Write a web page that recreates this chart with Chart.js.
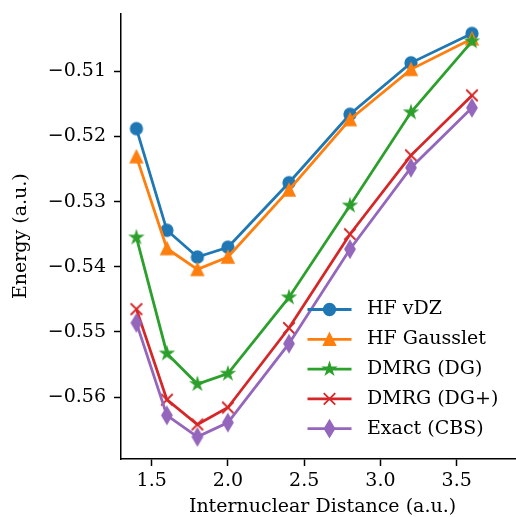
<!DOCTYPE html>
<html>
<head>
<meta charset="utf-8">
<script src="https://cdn.jsdelivr.net/npm/chart.js@4.4.1/dist/chart.umd.min.js"></script>
<style>
  html, body { margin: 0; padding: 0; background: #fff; }
  #wrap { width: 516px; height: 517px; }
</style>
</head>
<body>
<div id="wrap"><canvas id="c" width="516" height="517"></canvas></div>
<script>
// ---------------- data ----------------
const X_VALUES = [1.4, 1.6, 1.8, 2.0, 2.4, 2.8, 3.2, 3.6];
const SERIES_NAMES = ['HF vDZ', 'HF Gausslet', 'DMRG (DG)', 'DMRG (DG+)', 'Exact (CBS)'];
const HF_VDZ      = [-0.5188, -0.5344, -0.5385, -0.5370, -0.5271, -0.5166, -0.5087, -0.5042];
const HF_GAUSSLET = [-0.5231, -0.5372, -0.5404, -0.5385, -0.5282, -0.5174, -0.5097, -0.5050];
const DMRG_DG     = [-0.5355, -0.5533, -0.5580, -0.5564, -0.5447, -0.5306, -0.5163, -0.5054];
const DMRG_DGP    = [-0.5465, -0.5604, -0.5642, -0.5616, -0.5494, -0.5350, -0.5229, -0.5137];
const EXACT_CBS   = [-0.5486, -0.5628, -0.5661, -0.5639, -0.5518, -0.5373, -0.5248, -0.5156];
const X_TICKS = [1.5, 2.0, 2.5, 3.0, 3.5];
const X_TICK_LABELS = ['1.5', '2.0', '2.5', '3.0', '3.5'];
const Y_TICKS = [-0.56, -0.55, -0.54, -0.53, -0.52, -0.51];
const Y_TICK_LABELS = ['\u22120.56', '\u22120.55', '\u22120.54', '\u22120.53', '\u22120.52', '\u22120.51'];
const X_TITLE = 'Internuclear Distance (a.u.)';
const Y_TITLE = 'Energy (a.u.)';
const X_LIMITS = [1.299, 3.941];
const Y_LIMITS = [-0.5695, -0.5011];

// ---------------- styling ----------------
const COLORS = ['#1f77b4', '#ff7f0e', '#2ca02c', '#d62728', '#9467bd'];
const MARKERS = ['circle', 'triangle', 'star', 'x', 'thin_diamond'];
const SERIES = [HF_VDZ, HF_GAUSSLET, DMRG_DG, DMRG_DGP, EXACT_CBS];
const MS = 11.5;    // marker size px
const EW = 1.8;     // marker edge width px
const LW = 2.8;     // line width px
const FONT = "'DejaVu Serif', serif";
const AXES_RIGHT_EDGE = 524; // the x axis runs past the right edge of the canvas

function drawMarkerPath(g, kind, color) {
  const h = MS / 2;
  g.fillStyle = color; g.strokeStyle = color; g.lineWidth = EW;
  g.lineJoin = 'miter'; g.lineCap = 'butt';
  g.beginPath();
  if (kind === 'circle') {
    g.arc(0, 0, h, 0, Math.PI * 2);
    g.fill(); g.stroke();
  } else if (kind === 'triangle') {
    g.moveTo(0, -h); g.lineTo(h, h); g.lineTo(-h, h); g.closePath();
    g.fill(); g.stroke();
  } else if (kind === 'star') {
    const inner = h * 0.381966;
    for (let i = 0; i < 10; i++) {
      const r = i % 2 === 0 ? h : inner;
      const a = -Math.PI / 2 + i * Math.PI / 5;
      const px = r * Math.cos(a), py = r * Math.sin(a);
      if (i === 0) g.moveTo(px, py); else g.lineTo(px, py);
    }
    g.closePath(); g.fill(); g.stroke();
  } else if (kind === 'x') {
    g.moveTo(-h, -h); g.lineTo(h, h); g.moveTo(h, -h); g.lineTo(-h, h);
    g.stroke();
  } else if (kind === 'thin_diamond') {
    const hh = h * Math.SQRT2, hw = 0.6 * h * Math.SQRT2;
    g.moveTo(0, -hh); g.lineTo(hw, 0); g.lineTo(0, hh); g.lineTo(-hw, 0); g.closePath();
    g.fill(); g.stroke();
  }
}

function makeMarker(kind, color) {
  const c = document.createElement('canvas');
  c.width = 30; c.height = 30;
  const g = c.getContext('2d');
  g.translate(15, 15);
  drawMarkerPath(g, kind, color);
  return c;
}

const datasets = SERIES.map((vals, i) => ({
  label: SERIES_NAMES[i],
  data: X_VALUES.map((x, j) => ({ x: x, y: vals[j] })),
  borderColor: COLORS[i],
  backgroundColor: COLORS[i],
  borderWidth: LW,
  pointStyle: makeMarker(MARKERS[i], COLORS[i]),
  pointRadius: 6,
  pointHoverRadius: 6,
  tension: 0,
  fill: false,
  clip: false,
  order: SERIES.length - 1 - i
}));

// extend the x axis beyond the canvas edge, as in the reference figure
const extendPlugin = {
  id: 'extendX',
  afterLayout(chart) {
    const x = chart.scales.x;
    x.right = AXES_RIGHT_EDGE; x.width = x.right - x.left; x.configure();
    chart.chartArea.right = AXES_RIGHT_EDGE;
    chart.chartArea.width = AXES_RIGHT_EDGE - chart.chartArea.left;
  }
};

const legendPlugin = {
  id: 'mplLegend',
  afterDraw(chart) {
    const ctx = chart.ctx;
    const x0 = 307.5, x1 = 351.5, tx = 367, y0 = 309.5, dy = 29.8;
    ctx.save();
    SERIES_NAMES.forEach((name, i) => {
      const y = y0 + i * dy;
      ctx.strokeStyle = COLORS[i];
      ctx.lineWidth = LW;
      ctx.lineCap = 'butt';
      ctx.beginPath(); ctx.moveTo(x0, y); ctx.lineTo(x1, y); ctx.stroke();
      ctx.save();
      ctx.translate((x0 + x1) / 2, y);
      drawMarkerPath(ctx, MARKERS[i], COLORS[i]);
      ctx.restore();
      ctx.fillStyle = '#000';
      ctx.font = "19px " + FONT;
      ctx.textAlign = 'left';
      ctx.textBaseline = 'middle';
      ctx.fillText(name, tx, y);
    });
    ctx.restore();
  }
};

Chart.defaults.font.family = FONT;
Chart.defaults.font.size = 19;
Chart.defaults.color = '#000';

new Chart(document.getElementById('c'), {
  type: 'line',
  data: { datasets: datasets },
  options: {
    responsive: false,
    animation: false,
    devicePixelRatio: 1,
    layout: { padding: { left: 0, top: 13.3, right: 0, bottom: 0 } },
    plugins: { legend: { display: false }, tooltip: { enabled: false } },
    scales: {
      x: {
        type: 'linear',
        min: X_LIMITS[0], max: X_LIMITS[1],
        afterBuildTicks: (s) => { s.ticks = X_TICKS.map(v => ({ value: v })); },
        afterFit: (s) => { s.height = 58; s.paddingLeft = 0; s.paddingRight = 0; s.paddingTop = 0; s.paddingBottom = 0; },
        ticks: {
          padding: 4,
          maxRotation: 0,
          autoSkip: false,
          callback: (v) => { const k = X_TICKS.findIndex(t => Math.abs(t - v) < 1e-9); return k >= 0 ? X_TICK_LABELS[k] : ''; },
          font: { size: 19 }
        },
        grid: { drawOnChartArea: false, drawTicks: true, tickLength: 7, tickWidth: 1.5, tickColor: '#000' },
        border: { display: true, color: '#000', width: 1.5 },
        title: { display: true, text: X_TITLE, font: { size: 19, lineHeight: 1 }, padding: { top: 0, bottom: 0 } }
      },
      y: {
        type: 'linear',
        min: Y_LIMITS[0], max: Y_LIMITS[1],
        afterBuildTicks: (s) => { s.ticks = Y_TICKS.map(v => ({ value: v })); },
        afterFit: (s) => { s.width = 121; s.paddingTop = 0; s.paddingBottom = 0; },
        ticks: {
          padding: 8,
          autoSkip: false,
          callback: (v) => { const k = Y_TICKS.findIndex(t => Math.abs(t - v) < 1e-9); return k >= 0 ? Y_TICK_LABELS[k] : ''; },
          font: { size: 19 }
        },
        grid: { drawOnChartArea: false, drawTicks: true, tickLength: 7, tickWidth: 1.5, tickColor: '#000' },
        border: { display: true, color: '#000', width: 1.5 },
        title: { display: true, text: Y_TITLE, font: { size: 19, lineHeight: 1 }, padding: { top: 12, bottom: 0 } }
      }
    }
  },
  plugins: [extendPlugin, legendPlugin]
});
</script>
</body>
</html>
